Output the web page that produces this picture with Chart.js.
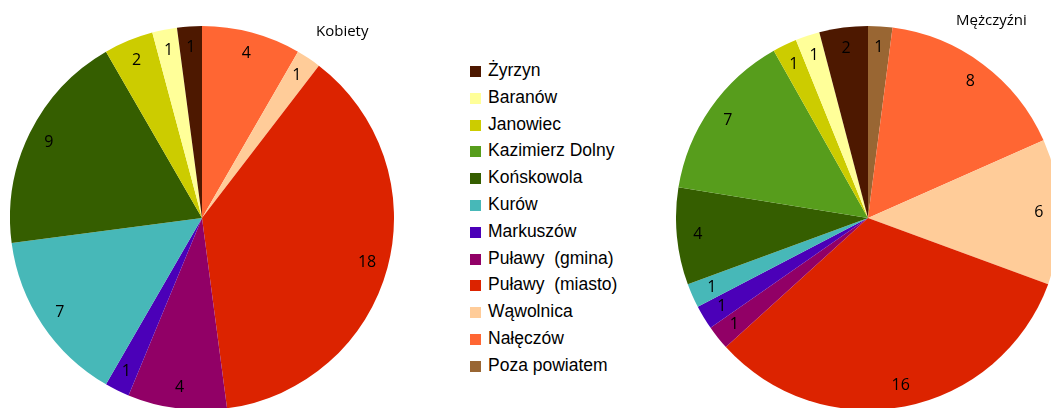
<!DOCTYPE html>
<html>
<head>
<meta charset="utf-8">
<script src="https://cdn.jsdelivr.net/npm/chart.js@4"></script>
<style>
  html, body { margin: 0; padding: 0; background: #fff; }
  body { width: 1051px; height: 408px; overflow: hidden; position: relative; }
  .pie { position: absolute; top: 26px; width: 384px; height: 384px; }
  #pieK { left: 10px; }
  #pieM { left: 676px; }
  .title { position: absolute; font-family: "Open Sans", sans-serif; font-size: 15px; color: #000; white-space: nowrap; }
  #legend { position: absolute; left: 470px; top: 57px; font-family: "Liberation Sans", Arial, sans-serif; font-size: 17.5px; color: #000; }
  #legend div { height: 26.8px; line-height: 26.8px; white-space: pre; }
  #legend span.box { display: inline-block; width: 11px; height: 11px; margin-right: 7px; vertical-align: -1px; }
</style>
</head>
<body>
<div class="pie" id="pieK"><canvas id="chartK" width="384" height="384"></canvas></div>
<div class="pie" id="pieM"><canvas id="chartM" width="384" height="384"></canvas></div>
<div class="title" style="left:316px; top:20px;">Kobiety</div>
<div class="title" style="left:956px; top:9px;">Mężczyźni</div>
<div id="legend"></div>
<script>
// gminy in legend order
const gminy = ["Żyrzyn", "Baranów", "Janowiec", "Kazimierz Dolny", "Końskowola", "Kurów",
  "Markuszów", "Puławy  (gmina)", "Puławy  (miasto)", "Wąwolnica", "Nałęczów", "Poza powiatem"];
const kolory = ["#4d1800", "#ffff99", "#cccc00", "#579d1c", "#355e00", "#47b8b8",
  "#4b00b8", "#910066", "#dc2300", "#ffcc99", "#ff6633", "#996633"];
const kobiety = [1, 1, 2, 0, 9, 7, 1, 4, 18, 1, 4, 0];
const mezczyzni = [2, 1, 1, 7, 4, 1, 1, 1, 16, 6, 8, 1];

// Legend
let legendBox = document.getElementById("legend");
gminy.forEach((g, i) => {
  let row = document.createElement("div");
  row.innerHTML = '<span class="box" style="background:' + kolory[i] + '"></span>' + g;
  legendBox.appendChild(row);
});

// Value labels inside slices
const valueLabels = {
  id: "valueLabels",
  afterDatasetsDraw(chart) {
    let ctx = chart.ctx;
    let meta = chart.getDatasetMeta(0);
    let data = chart.data.datasets[0].data;
    ctx.save();
    ctx.font = '16px "Open Sans"';
    ctx.fillStyle = "#000";
    ctx.textAlign = "center";
    ctx.textBaseline = "middle";
    meta.data.forEach((arc, i) => {
      if (!data[i]) return;
      let p = arc.getProps(["x", "y", "startAngle", "endAngle", "outerRadius"], true);
      let a = (p.startAngle + p.endAngle) / 2;
      let r = p.outerRadius * 0.89;
      ctx.fillText(data[i], p.x + Math.cos(a) * r, p.y + Math.sin(a) * r);
    });
    ctx.restore();
  }
};

// slices go counterclockwise in the original, so feed them reversed
function drawPie(id, values) {
  let ctx = document.getElementById(id).getContext("2d");
  new Chart(ctx, {
    type: "pie",
    data: {
      labels: gminy.slice().reverse(),
      datasets: [{
        data: values.slice().reverse(),
        backgroundColor: kolory.slice().reverse(),
        borderWidth: 0
      }]
    },
    options: {
      responsive: false,
      animation: false,
      layout: { padding: 0 },
      plugins: { legend: { display: false }, tooltip: { enabled: false } }
    },
    plugins: [valueLabels]
  });
}

drawPie("chartK", kobiety);
drawPie("chartM", mezczyzni);
</script>
</body>
</html>
